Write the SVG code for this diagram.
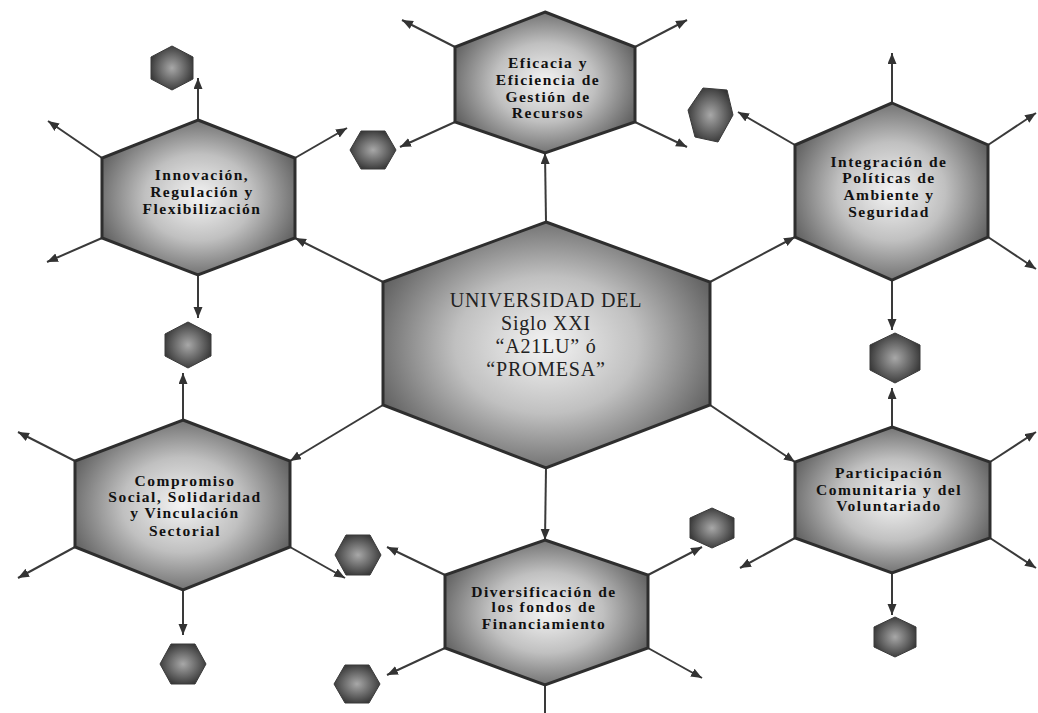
<svg xmlns="http://www.w3.org/2000/svg" width="1038" height="713" viewBox="0 0 1038 713">
<defs>
<radialGradient id="gBig" cx="0.5" cy="0.5" r="0.62">
<stop offset="0" stop-color="#f4f4f4"/>
<stop offset="0.45" stop-color="#c0c0c0"/>
<stop offset="1" stop-color="#4a4a4a"/>
</radialGradient>
<radialGradient id="gSmall" cx="0.5" cy="0.5" r="0.6">
<stop offset="0" stop-color="#a8a8a8"/>
<stop offset="1" stop-color="#2a2a2a"/>
</radialGradient>
<marker id="ah" markerUnits="userSpaceOnUse" markerWidth="12" markerHeight="10" refX="11" refY="4.5" orient="auto">
<path d="M0,0 L11,4.5 L0,9 z" fill="#333"/>
</marker>
<style>
.hex{fill:url(#gBig);stroke:#2e2e2e;stroke-width:3;stroke-linejoin:miter}
.sm{fill:url(#gSmall);stroke:#3a3a3a;stroke-width:1}
.c{stroke:#3a3a3a;stroke-width:2;fill:none}
.a{marker-end:url(#ah)}
.t{font-family:"Liberation Serif","Times New Roman",serif;font-weight:bold;font-size:15.5px;fill:#111;text-anchor:middle;letter-spacing:1.5px}
.tc{font-family:"Liberation Serif","Times New Roman",serif;font-size:20px;fill:#222;text-anchor:middle;letter-spacing:0.8px}
</style>
</defs>
<rect width="1038" height="713" fill="#ffffff"/>

<g id="connectors">
<line class="c a" x1="546" y1="222" x2="545" y2="153"/>
<line class="c a" x1="383" y1="282" x2="295" y2="238"/>
<line class="c a" x1="710" y1="282" x2="795" y2="237"/>
<line class="c a" x1="383" y1="405" x2="290" y2="461"/>
<line class="c a" x1="710" y1="405" x2="795" y2="462"/>
<line class="c a" x1="546" y1="468" x2="545" y2="540"/>

<line class="c a" x1="198" y1="120" x2="198" y2="78"/>
<line class="c a" x1="102" y1="158" x2="48" y2="121"/>
<line class="c a" x1="102" y1="238" x2="47" y2="262"/>
<line class="c a" x1="295" y1="158" x2="347" y2="128"/>
<line class="c a" x1="198" y1="275" x2="198" y2="318"/>

<line class="c a" x1="455" y1="47" x2="402" y2="20"/>
<line class="c a" x1="455" y1="122" x2="400" y2="147"/>
<line class="c a" x1="635" y1="47" x2="687" y2="20"/>
<line class="c a" x1="635" y1="122" x2="687" y2="147"/>

<line class="c a" x1="892" y1="103" x2="892" y2="53"/>
<line class="c a" x1="795" y1="145" x2="738" y2="112"/>
<line class="c a" x1="988" y1="145" x2="1036" y2="113"/>
<line class="c a" x1="988" y1="237" x2="1036" y2="269"/>
<line class="c a" x1="892" y1="280" x2="892" y2="330"/>

<line class="c a" x1="892" y1="427" x2="892" y2="388"/>
<line class="c a" x1="990" y1="462" x2="1036" y2="432"/>
<line class="c a" x1="990" y1="538" x2="1036" y2="568"/>
<line class="c a" x1="795" y1="538" x2="740" y2="568"/>
<line class="c a" x1="892" y1="573" x2="892" y2="615"/>

<line class="c a" x1="183" y1="420" x2="183" y2="373"/>
<line class="c a" x1="75" y1="461" x2="18" y2="432"/>
<line class="c a" x1="75" y1="547" x2="18" y2="578"/>
<line class="c a" x1="290" y1="547" x2="345" y2="578"/>
<line class="c a" x1="183" y1="590" x2="183" y2="635"/>

<line class="c a" x1="445" y1="575" x2="387" y2="547"/>
<line class="c a" x1="445" y1="648" x2="387" y2="675"/>
<line class="c a" x1="648" y1="575" x2="702" y2="547"/>
<line class="c a" x1="648" y1="648" x2="702" y2="678"/>
<line class="c" x1="545" y1="685" x2="545" y2="713"/>
</g>

<g id="small-hexes">
<polygon class="sm" points="172,46 193,57 193,79 172,90 151,79 151,57"/>
<polygon class="sm" points="350,150 361,131 385,131 396,150 385,169 361,169"/>
<polygon class="sm" points="703,88 727,90 733,115 718,142 695,137 688,110"/>
<polygon class="sm" points="895,333 920,345 920,370 895,383 870,370 870,345"/>
<polygon class="sm" points="188,322 211,334 211,356 188,368 165,356 165,334"/>
<polygon class="sm" points="895,617 916,627 916,647 895,657 874,647 874,627"/>
<polygon class="sm" points="160,664 171,644 195,644 206,664 195,684 171,684"/>
<polygon class="sm" points="335,555 346,535 370,535 381,555 370,575 346,575"/>
<polygon class="sm" points="712,508 734,518 734,538 712,548 690,538 690,518"/>
<polygon class="sm" points="334,684 345,665 369,665 380,684 369,703 345,703"/>
</g>

<g id="center">
<polygon class="hex" points="546,222 710,282 710,405 546,468 383,405 383,282"/>
<text class="tc" x="546" y="307">UNIVERSIDAD DEL</text>
<text class="tc" x="546" y="330">Siglo XXI</text>
<text class="tc" x="546" y="353">“A21LU” ó</text>
<text class="tc" x="546" y="376">“PROMESA”</text>
</g>

<g id="innovacion">
<polygon class="hex" points="198,120 295,158 295,238 198,275 102,238 102,158"/>
<text class="t" x="202" y="180">Innovación,</text>
<text class="t" x="202" y="197">Regulación y</text>
<text class="t" x="202" y="214">Flexibilización</text>
</g>

<g id="eficacia">
<polygon class="hex" points="545,12 635,47 635,122 545,153 455,122 455,47"/>
<text class="t" x="548" y="68">Eficacia y</text>
<text class="t" x="548" y="85">Eficiencia de</text>
<text class="t" x="548" y="102">Gestión de</text>
<text class="t" x="548" y="118">Recursos</text>
</g>

<g id="integracion">
<polygon class="hex" points="892,103 988,145 988,237 892,280 795,237 795,145"/>
<text class="t" x="889" y="167">Integración de</text>
<text class="t" x="889" y="183">Políticas de</text>
<text class="t" x="889" y="200">Ambiente y</text>
<text class="t" x="889" y="217">Seguridad</text>
</g>

<g id="compromiso">
<polygon class="hex" points="183,420 290,461 290,547 183,590 75,547 75,461"/>
<text class="t" x="185" y="486">Compromiso</text>
<text class="t" x="185" y="502">Social, Solidaridad</text>
<text class="t" x="185" y="518">y Vinculación</text>
<text class="t" x="185" y="536">Sectorial</text>
</g>

<g id="participacion">
<polygon class="hex" points="892,427 990,462 990,538 892,573 795,538 795,462"/>
<text class="t" x="889" y="478">Participación</text>
<text class="t" x="889" y="495">Comunitaria y del</text>
<text class="t" x="889" y="511">Voluntariado</text>
</g>

<g id="diversificacion">
<polygon class="hex" points="545,540 648,575 648,648 545,685 445,648 445,575"/>
<text class="t" x="544" y="597">Diversificación de</text>
<text class="t" x="544" y="612">los fondos de</text>
<text class="t" x="544" y="629">Financiamiento</text>
</g>
</svg>
